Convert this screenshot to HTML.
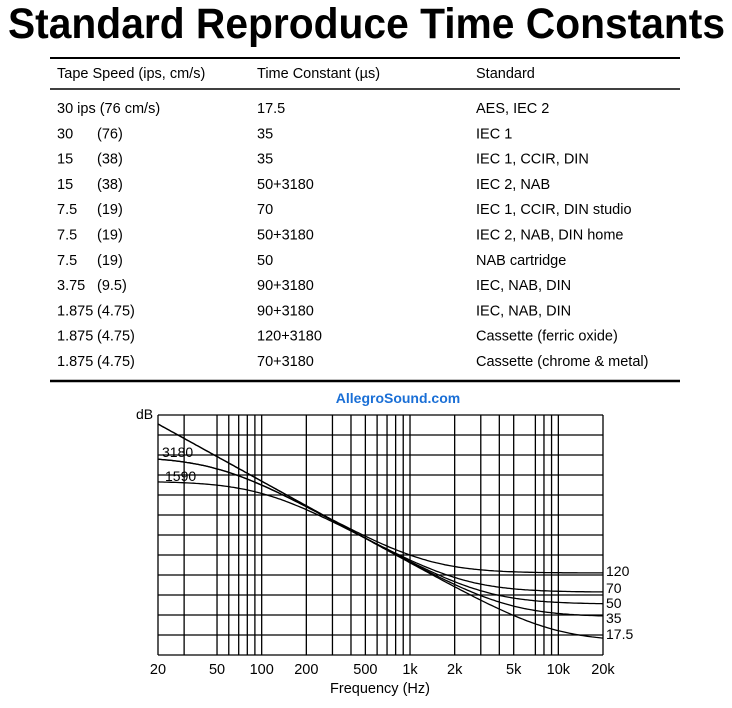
<!DOCTYPE html>
<html><head><meta charset="utf-8"><style>
html,body{margin:0;padding:0;background:#fff;}
svg{display:block;font-family:"Liberation Sans",Arial,sans-serif;}
</style></head><body>
<svg id="s" width="732" height="708" viewBox="0 0 732 708" xmlns="http://www.w3.org/2000/svg">
<text x="8" y="38" font-size="43" font-weight="bold" textLength="717" lengthAdjust="spacingAndGlyphs">Standard Reproduce Time Constants</text>
<line x1="50" y1="58" x2="680" y2="58" stroke="#000" stroke-width="2"/>
<line x1="50" y1="89" x2="680" y2="89" stroke="#000" stroke-width="1.5"/>
<line x1="50" y1="381" x2="680" y2="381" stroke="#000" stroke-width="2.5"/>
<g font-size="14.5" fill="#000">
<text x="57" y="78">Tape Speed (ips, cm/s)</text>
<text x="257" y="78">Time Constant (µs)</text>
<text x="476" y="78">Standard</text>
</g>
<g id="rows" font-size="14.5" fill="#000"></g>
<text x="398" y="403" font-size="14" font-weight="bold" fill="#1a6fd6" text-anchor="middle">AllegroSound.com</text>
<g id="grid" stroke="#000" stroke-width="1.3"></g>
<g id="curves" fill="none" stroke="#000" stroke-width="1.3"></g>
<g font-size="14" fill="#000">
<text x="136" y="419">dB</text>
<text x="162" y="457">3180</text>
<text x="165" y="481">1590</text>
<text x="606" y="576">120</text>
<text x="606" y="593">70</text>
<text x="606" y="608">50</text>
<text x="606" y="623">35</text>
<text x="606" y="639">17.5</text>
</g>
<g id="xt" font-size="14.5" fill="#000" text-anchor="middle"></g>
<text x="380" y="693" font-size="14.5" text-anchor="middle">Frequency (Hz)</text>
</svg>
<script>
var NS="http://www.w3.org/2000/svg";
function el(p,t,a,txt){var e=document.createElementNS(NS,t);for(var k in a)e.setAttribute(k,a[k]);if(txt!=null)e.textContent=txt;p.appendChild(e);return e;}
var rows=[["30 ips (76 cm/s)","","17.5","AES, IEC 2"],["30","(76)","35","IEC 1"],["15","(38)","35","IEC 1, CCIR, DIN"],["15","(38)","50+3180","IEC 2, NAB"],["7.5","(19)","70","IEC 1, CCIR, DIN studio"],["7.5","(19)","50+3180","IEC 2, NAB, DIN home"],["7.5","(19)","50","NAB cartridge"],["3.75","(9.5)","90+3180","IEC, NAB, DIN"],["1.875","(4.75)","90+3180","IEC, NAB, DIN"],["1.875","(4.75)","120+3180","Cassette (ferric oxide)"],["1.875","(4.75)","70+3180","Cassette (chrome & metal)"]];
var R=document.getElementById("rows");
rows.forEach(function(r,i){var y=113+i*25.3;el(R,"text",{x:57,y:y},r[0]);if(r[1])el(R,"text",{x:97,y:y},r[1]);el(R,"text",{x:257,y:y},r[2]);el(R,"text",{x:476,y:y},r[3]);});
var X0=158,X1=603,T=415,B=655;
function fx(f){return X0+(X1-X0)*Math.log10(f/20)/3;}
var G=document.getElementById("grid");
for(var y=T;y<=B;y+=20)el(G,"line",{x1:X0,y1:y,x2:X1,y2:y});
var fs=[20,30,50,60,70,80,90,100,200,300,400,500,600,700,800,900,1000,2000,3000,4000,5000,7000,8000,9000,10000,20000];
fs.forEach(function(f){var x=fx(f);el(G,"line",{x1:x,y1:T,x2:x,y2:B});});
var XT=document.getElementById("xt");
[[20,"20"],[50,"50"],[100,"100"],[200,"200"],[500,"500"],[1000,"1k"],[2000,"2k"],[5000,"5k"],[10000,"10k"],[20000,"20k"]].forEach(function(a){el(XT,"text",{x:fx(a[0]),y:674},a[1]);});
function L(f,t2,t1){var w=2*Math.PI*f,v=10*Math.log10(1/(w*w)+t2*t2);if(t1){var b=w*t1;v+=10*Math.log10(b*b/(1+b*b));}return v;}
var C=document.getElementById("curves");
var k=4.09,c=252.3;
[[17.5e-6,0],[35e-6,0],[50e-6,3180e-6],[70e-6,1590e-6],[120e-6,3180e-6]].forEach(function(cv){
 var d="";
 for(var i=0;i<=200;i++){var f=20*Math.pow(1000,i/200);var y=c-k*L(f,cv[0],cv[1]);d+=(i?"L":"M")+fx(f).toFixed(1)+" "+y.toFixed(1);}
 el(C,"path",{d:d});
});
</script>
</body></html>
